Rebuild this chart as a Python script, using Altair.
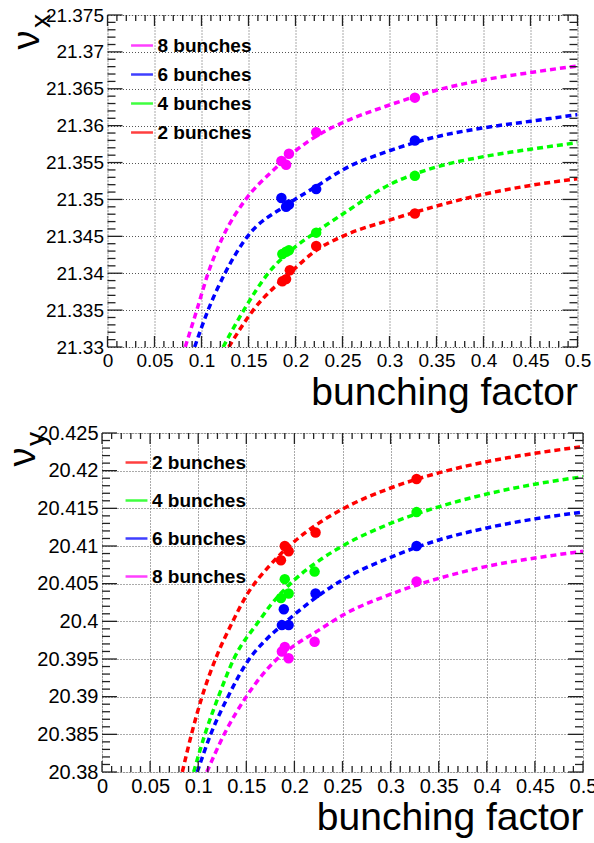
import altair as alt
import pandas as pd

# ---------------- data ----------------
SERIES_NAMES = ["2 bunches", "4 bunches", "6 bunches", "8 bunches"]
SERIES_COLORS = ["#ff0000", "#00ff00", "#0000ff", "#ff00ff"]

X_MAJOR = [0, 0.05, 0.1, 0.15, 0.2, 0.25, 0.3, 0.35, 0.4, 0.45, 0.5]

# top panel: nu_x  -- fitted curves (dashed)
NUX_C2_X = [0.129, 0.155, 0.194, 0.222, 0.25, 0.3, 0.35, 0.4, 0.45, 0.5]
NUX_C2_Y = [21.33, 21.335, 21.34, 21.3431, 21.345, 21.3472, 21.3491, 21.3507, 21.3519, 21.3528]
NUX_C4_X = [0.123, 0.145, 0.171, 0.2, 0.222, 0.25, 0.3, 0.35, 0.4, 0.45, 0.5]
NUX_C4_Y = [21.33, 21.335, 21.34, 21.3436, 21.3456, 21.348, 21.352, 21.3544, 21.3558, 21.3568, 21.3577]
NUX_C6_X = [0.0927, 0.107, 0.125, 0.149, 0.19, 0.225, 0.25, 0.3, 0.35, 0.4, 0.45, 0.5]
NUX_C6_Y = [21.33, 21.335, 21.34, 21.345, 21.3492, 21.352, 21.354, 21.3566, 21.3585, 21.3597, 21.3606, 21.3615]
NUX_C8_X = [0.0827, 0.095, 0.107, 0.123, 0.147, 0.175, 0.2, 0.225, 0.25, 0.3, 0.35, 0.4, 0.45, 0.5]
NUX_C8_Y = [21.33, 21.335, 21.34, 21.345, 21.35, 21.3538, 21.3566, 21.3588, 21.3604, 21.3628, 21.3648, 21.3662, 21.3672, 21.3681]
# top panel: measured points
NUX_P2_X = [0.186, 0.19, 0.194, 0.222, 0.327]
NUX_P2_Y = [21.3389, 21.3392, 21.3404, 21.3437, 21.3481]
NUX_P4_X = [0.186, 0.19, 0.193, 0.222, 0.327]
NUX_P4_Y = [21.3426, 21.3429, 21.3431, 21.3455, 21.3532]
NUX_P6_X = [0.185, 0.19, 0.193, 0.222, 0.327]
NUX_P6_Y = [21.3502, 21.349, 21.3493, 21.3514, 21.358]
NUX_P8_X = [0.185, 0.19, 0.193, 0.222, 0.327]
NUX_P8_Y = [21.3552, 21.3547, 21.3562, 21.3591, 21.3638]
NUX_Y_MAJOR = [21.33, 21.335, 21.34, 21.345, 21.35, 21.355, 21.36, 21.365, 21.37, 21.375]

# bottom panel: nu_y -- fitted curves (dashed)
NUY_C2_X = [0.0835, 0.093, 0.104, 0.118, 0.136, 0.15, 0.175, 0.2, 0.225, 0.25, 0.3, 0.35, 0.4, 0.45, 0.5]
NUY_C2_Y = [20.38, 20.385, 20.39, 20.395, 20.4, 20.4034, 20.4075, 20.4106, 20.413, 20.4149, 20.4177, 20.4197, 20.4212, 20.4223, 20.4232]
NUY_C4_X = [0.0953, 0.107, 0.121, 0.137, 0.163, 0.175, 0.2, 0.225, 0.25, 0.3, 0.35, 0.4, 0.45, 0.5]
NUY_C4_Y = [20.38, 20.385, 20.39, 20.395, 20.4, 20.4021, 20.4055, 20.408, 20.41, 20.413, 20.4152, 20.4169, 20.4182, 20.4192]
NUY_C6_X = [0.099, 0.113, 0.131, 0.152, 0.17, 0.19, 0.2, 0.225, 0.25, 0.3, 0.35, 0.4, 0.45, 0.5]
NUY_C6_Y = [20.38, 20.385, 20.39, 20.3948, 20.3975, 20.3998, 20.4009, 20.4034, 20.4055, 20.4085, 20.4108, 20.4124, 20.4136, 20.4145]
NUY_C8_X = [0.109, 0.127, 0.15, 0.182, 0.2, 0.225, 0.25, 0.3, 0.35, 0.4, 0.45, 0.5]
NUY_C8_Y = [20.38, 20.385, 20.39, 20.395, 20.3968, 20.3988, 20.4008, 20.4036, 20.4057, 20.4073, 20.4084, 20.4093]
# bottom panel: measured points
NUY_P2_X = [0.186, 0.19, 0.194, 0.222, 0.327]
NUY_P2_Y = [20.4081, 20.41, 20.4093, 20.4118, 20.4189]
NUY_P4_X = [0.186, 0.19, 0.194, 0.221, 0.327]
NUY_P4_Y = [20.4031, 20.4056, 20.4037, 20.4066, 20.4145]
NUY_P6_X = [0.187, 0.189, 0.194, 0.222, 0.327]
NUY_P6_Y = [20.3995, 20.4016, 20.3995, 20.4037, 20.41]
NUY_P8_X = [0.187, 0.19, 0.194, 0.221, 0.327]
NUY_P8_Y = [20.396, 20.3966, 20.3951, 20.3973, 20.4053]
NUY_Y_MAJOR = [20.38, 20.385, 20.39, 20.395, 20.4, 20.405, 20.41, 20.415, 20.42, 20.425]

X_TITLE = "bunching factor"

# ---------------- helpers ----------------
FONT = "Liberation Sans"


def minor_ticks(major, n=5):
    out = []
    for a, b in zip(major[:-1], major[1:]):
        for k in range(1, n):
            out.append(round(a + (b - a) * k / n, 6))
    return out


def series_df(names, xs_list, ys_list):
    rows = []
    for name, xs, ys in zip(names, xs_list, ys_list):
        for x, y in zip(xs, ys):
            rows.append({"s": name, "x": x, "y": y})
    return pd.DataFrame(rows)


def panel(curve_x, curve_y, pt_x, pt_y, y_major, order, W, H, sub,
          legend_y, row_pad, nu_xy, sub_xy, label_size):
    ydom = [y_major[0], y_major[-1]]
    color_map = dict(zip(SERIES_NAMES, SERIES_COLORS))
    color = alt.Color(
        "s:N",
        scale=alt.Scale(domain=order, range=[color_map[o] for o in order]),
        legend=alt.Legend(
            orient="none", legendX=22, legendY=legend_y, title=None,
            symbolType="stroke", symbolStrokeWidth=2.5, symbolSize=480,
            symbolOpacity=0.75, labelFont=FONT, labelFontSize=19,
            labelFontWeight="bold", labelColor="black", labelOffset=3,
            rowPadding=row_pad, padding=0,
        ),
    )
    xenc = alt.X(
        "x:Q",
        scale=alt.Scale(domain=[0, 0.5], nice=False, zero=False),
        axis=alt.Axis(
            values=X_MAJOR, format=".6~g", grid=True, gridDash=[1, 2],
            gridColor="#555", gridWidth=1, ticks=False, domain=False,
            labelFont=FONT, labelFontSize=label_size, labelColor="black",
            labelPadding=4, labelFlush=False, labelOverlap=False,
            title=X_TITLE, titleFont=FONT, titleFontSize=39,
            titleFontWeight="normal", titleColor="black",
            titleAnchor="end", titleAlign="right", titleX=W, titleY=57,
            titleBaseline="alphabetic",
        ),
    )
    yenc = alt.Y(
        "y:Q",
        scale=alt.Scale(domain=ydom, nice=False, zero=False),
        axis=alt.Axis(
            values=y_major, format=".6~g", grid=True, gridDash=[1, 2],
            gridColor="#555", gridWidth=1, ticks=False, domain=False,
            labelFont=FONT, labelFontSize=label_size, labelColor="black",
            labelPadding=4, labelFlush=False, labelOverlap=False, title=None,
        ),
    )

    curves = alt.Chart(series_df(SERIES_NAMES, curve_x, curve_y)).mark_line(
        strokeWidth=3.5, strokeDash=[6, 4], interpolate="monotone", clip=True
    ).encode(x=xenc, y=yenc, color=color)

    pts = alt.Chart(series_df(SERIES_NAMES, pt_x, pt_y)).mark_circle(
        size=110, opacity=1
    ).encode(x=xenc, y=yenc, color=color)

    layers = [curves, pts]

    # inward ROOT-style ticks on all four sides
    x_min = minor_ticks(X_MAJOR)
    y_min = minor_ticks(y_major)
    tick_style = dict(color="#222", strokeWidth=1.3)
    for vals, L in ((X_MAJOR, 11), (x_min, 6)):
        d = pd.DataFrame({"x": vals})
        layers.append(alt.Chart(d).mark_rule(**tick_style).encode(
            x=xenc, y=alt.value(H), y2=alt.value(H - L)))
        layers.append(alt.Chart(d).mark_rule(**tick_style).encode(
            x=xenc, y=alt.value(0), y2=alt.value(L)))
    for vals, L in ((y_major, 15), (y_min, 8)):
        d = pd.DataFrame({"y": vals})
        layers.append(alt.Chart(d).mark_rule(**tick_style).encode(
            y=yenc, x=alt.value(0), x2=alt.value(L)))
        layers.append(alt.Chart(d).mark_rule(**tick_style).encode(
            y=yenc, x=alt.value(W), x2=alt.value(W - L)))

    # y-axis title: nu with subscript, rotated
    nu = alt.Chart(pd.DataFrame({"t": ["ν"]})).mark_text(
        font=FONT, fontSize=38, angle=270, color="black",
        align="center", baseline="middle"
    ).encode(text="t:N", x=alt.value(nu_xy[0]), y=alt.value(nu_xy[1]))
    sb = alt.Chart(pd.DataFrame({"t": [sub]})).mark_text(
        font=FONT, fontSize=28, angle=270, color="black",
        align="center", baseline="middle"
    ).encode(text="t:N", x=alt.value(sub_xy[0]), y=alt.value(sub_xy[1]))
    layers += [nu, sb]

    return alt.layer(*layers).properties(width=W, height=H)


top = panel(
    [NUX_C2_X, NUX_C4_X, NUX_C6_X, NUX_C8_X],
    [NUX_C2_Y, NUX_C4_Y, NUX_C6_Y, NUX_C8_Y],
    [NUX_P2_X, NUX_P4_X, NUX_P6_X, NUX_P8_X],
    [NUX_P2_Y, NUX_P4_Y, NUX_P6_Y, NUX_P8_Y],
    NUX_Y_MAJOR, ["8 bunches", "6 bunches", "4 bunches", "2 bunches"],
    470, 332, "x", 18, 6, (-80, 25), (-66, 6), 19,
)
bottom = panel(
    [NUY_C2_X, NUY_C4_X, NUY_C6_X, NUY_C8_X],
    [NUY_C2_Y, NUY_C4_Y, NUY_C6_Y, NUY_C8_Y],
    [NUY_P2_X, NUY_P4_X, NUY_P6_X, NUY_P8_X],
    [NUY_P2_Y, NUY_P4_Y, NUY_P6_Y, NUY_P8_Y],
    NUY_Y_MAJOR, ["2 bunches", "4 bunches", "6 bunches", "8 bunches"],
    481, 339, "y", 17, 15, (-78, 24), (-65, 6), 20,
)

chart = alt.vconcat(top, bottom, spacing=86, center=True, bounds="flush").resolve_scale(
    color="independent"
).properties(
    autosize=alt.AutoSizeParams(type="none"),
    padding={"left": 102, "top": 15, "right": 492, "bottom": 828},
).configure_view(stroke="#222", strokeWidth=2).configure(background="white")

chart.save("out.html", embed_options={"renderer": "svg", "actions": False})
